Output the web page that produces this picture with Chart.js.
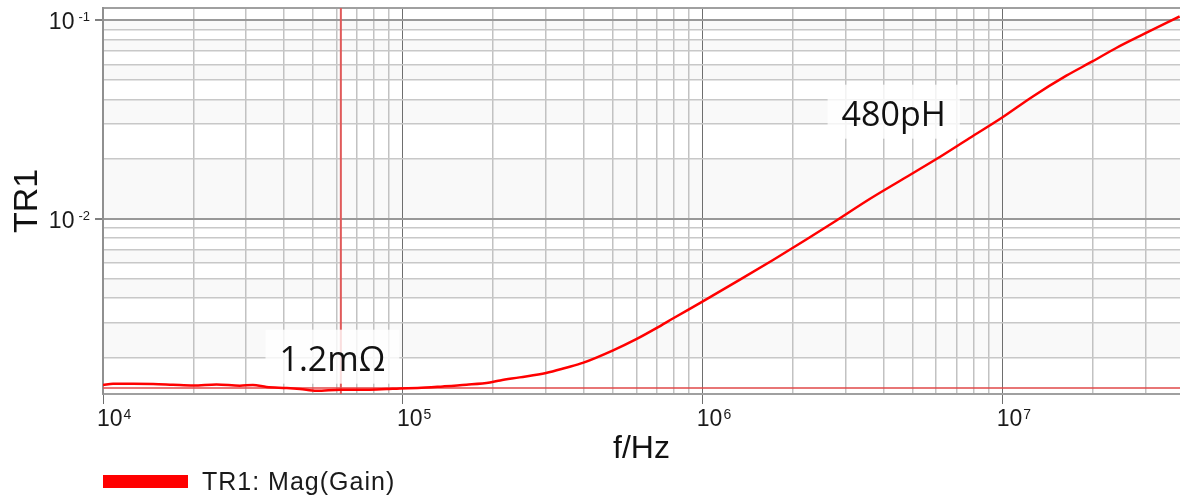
<!DOCTYPE html>
<html>
<head>
<meta charset="utf-8">
<script src="https://cdn.jsdelivr.net/npm/chart.js@4.4.1/dist/chart.umd.min.js"></script>
<style>
  html, body { margin: 0; padding: 0; background: #fff; }
</style>
</head>
<body>
<canvas id="chart" width="1180" height="496"></canvas>
<script>
// sweep (Hz -> |TR1|)
const freqHz = [1.0e4, 1.08e4, 1.26e4, 1.47e4, 1.71e4, 2.0e4, 2.39e4, 2.86e4, 3.16e4, 3.51e4,
  4.1e4, 4.54e4, 5.16e4, 6.17e4, 7.57e4, 8.82e4, 9.77e4, 1.12e5, 1.36e5, 1.63e5,
  1.95e5, 2.11e5, 2.45e5, 3.0e5, 3.5e5, 4.0e5, 5.0e5, 6.0e5, 7.0e5, 8.0e5,
  1.0e6, 1.33e6, 1.72e6, 2.22e6, 2.79e6, 3.6e6, 4.65e6, 6.01e6, 7.76e6, 9.9e6,
  1.26e7, 1.63e7, 1.99e7, 2.39e7, 2.97e7, 3.89e7];
const magTR1 = [1.450e-3, 1.472e-3, 1.472e-3, 1.467e-3, 1.455e-3, 1.443e-3, 1.460e-3, 1.438e-3, 1.450e-3, 1.417e-3,
  1.400e-3, 1.384e-3, 1.357e-3, 1.373e-3, 1.373e-3, 1.384e-3, 1.394e-3, 1.400e-3, 1.426e-3, 1.455e-3,
  1.494e-3, 1.529e-3, 1.584e-3, 1.667e-3, 1.773e-3, 1.879e-3, 2.161e-3, 2.468e-3, 2.805e-3, 3.157e-3,
  3.828e-3, 4.925e-3, 6.212e-3, 7.881e-3, 9.80e-3, 1.257e-2, 1.585e-2, 1.999e-2, 2.553e-2, 3.219e-2,
  4.136e-2, 5.262e-2, 6.21e-2, 7.26e-2, 8.567e-2, 1.047e-1];

const markerFreq = 6.21e4;  // vertical cursor
const refLevel = 1.4e-3;    // horizontal reference level

const xMin = 1e4, xMax = 3.9e7;
const yMin = 1.306e-3, yMax = 0.1155;

const xDecades = [1e4, 1e5, 1e6, 1e7];
const xDecadeExp = ['4', '5', '6', '7'];
const yDecades = [1e-2, 1e-1];
const yDecadeExp = ['-2', '-1'];
const gridSteps = [1, 2, 3, 4, 5, 6, 7, 8, 9];

const shadedBands = [[9e-2, 1e-1], [7e-2, 8e-2], [5e-2, 6e-2], [3e-2, 4e-2], [1e-2, 2e-2],
  [6e-3, 7e-3], [4e-3, 5e-3], [2e-3, 3e-3]];

const notes = [
  { text: '480pH', x: 4.33e6, y: 3.385e-2 },
  { text: '1.2mΩ', x: 5.82e4, y: 1.968e-3 }
];

const legendLabel = 'TR1: Mag(Gain)';
const sansFont = '"Liberation Sans", Arial, sans-serif';

function isDecade(v){
  const l = Math.log10(v);
  return Math.abs(l - Math.round(l)) < 1e-6;
}

function gridValues(decades, lo, hi){
  const vals = [];
  decades.forEach(d => gridSteps.forEach(s => {
    const v = d * s;
    if (v >= lo * 0.999 && v <= hi * 1.001) vals.push(v);
  }));
  return vals;
}

const xGrid = gridValues([1e4, 1e5, 1e6, 1e7], xMin, xMax);
const yGrid = gridValues([1e-3, 1e-2, 1e-1], yMin, yMax).concat([yMax]);

const plotDecor = {
  id: 'plotDecor',
  beforeDraw(chart){
    const {ctx, chartArea: a, scales: {y}} = chart;
    ctx.save();
    ctx.fillStyle = '#f9f9f9';
    shadedBands.forEach(b => {
      const top = y.getPixelForValue(b[1]);
      const bot = y.getPixelForValue(b[0]);
      ctx.fillRect(a.left, top, a.right - a.left, bot - top);
    });
    ctx.restore();
  },
  beforeDatasetDraw(chart, args){
    if (args.index !== 0) return;
    const {ctx, scales: {x, y}} = chart;
    ctx.save();
    ctx.font = '34px "Open Sans", sans-serif';
    notes.forEach(n => {
      const cx = x.getPixelForValue(n.x);
      const cy = y.getPixelForValue(n.y);
      const w = ctx.measureText(n.text).width;
      ctx.fillStyle = 'rgba(255,255,255,0.8)';
      ctx.fillRect(cx - w / 2 - 14, cy - 29, w + 28, 54);
      ctx.fillStyle = '#111';
      ctx.textAlign = 'center';
      ctx.textBaseline = 'alphabetic';
      ctx.fillText(n.text, cx, cy + 12);
    });
    ctx.restore();
  },
  afterDraw(chart){
    const {ctx, chartArea: a, scales: {x, y}} = chart;
    ctx.save();
    ctx.fillStyle = '#1a1a1a';
    ctx.textBaseline = 'alphabetic';

    // x decade labels 10^n
    xDecades.forEach((v, i) => {
      const px = x.getPixelForValue(v);
      ctx.font = '23px ' + sansFont;
      ctx.textAlign = 'left';
      ctx.fillText('10', px - 6, a.bottom + 32);
      const w = ctx.measureText('10').width;
      ctx.font = '14px ' + sansFont;
      ctx.fillText(xDecadeExp[i], px - 6 + w + 1, a.bottom + 25);
    });

    // y decade labels 10^n
    yDecades.forEach((v, i) => {
      const py = y.getPixelForValue(v);
      ctx.textAlign = 'right';
      ctx.font = '13px ' + sansFont;
      ctx.fillText(yDecadeExp[i], 90, py + 1);
      const we = ctx.measureText(yDecadeExp[i]).width;
      ctx.font = '23px ' + sansFont;
      ctx.fillText('10', 90 - we - 4, py + 9);
    });

    // legend
    const ds = chart.data.datasets[0];
    ctx.fillStyle = ds.borderColor;
    ctx.fillRect(103, 475, 85, 13);
    ctx.fillStyle = '#1a1a1a';
    ctx.textAlign = 'left';
    ctx.font = '25px ' + sansFont;
    ctx.letterSpacing = '1px';
    ctx.fillText(ds.label, 202, 490);
    ctx.restore();
  }
};

const ctx = document.getElementById('chart').getContext('2d');
new Chart(ctx, {
  type: 'line',
  data: {
    datasets: [{
      label: legendLabel,
      data: freqHz.map((f, i) => ({x: f, y: magTR1[i]})),
      borderColor: '#ff0000',
      borderWidth: 2.5,
      pointRadius: 0,
      cubicInterpolationMode: 'monotone',
      fill: false
    }, {
      label: 'marker',
      data: [{x: markerFreq, y: yMin}, {x: markerFreq, y: yMax}],
      borderColor: '#e05a5a',
      borderWidth: 2,
      pointRadius: 0
    }, {
      label: 'ref',
      data: [{x: xMin, y: refLevel}, {x: xMax, y: refLevel}],
      borderColor: '#e04848',
      borderWidth: 1.5,
      pointRadius: 0
    }]
  },
  options: {
    responsive: false,
    animation: false,
    layout: { padding: { top: 8, left: 0, right: 0, bottom: 0 } },
    plugins: {
      legend: { display: false },
      tooltip: { enabled: false }
    },
    scales: {
      x: {
        type: 'logarithmic',
        min: xMin,
        max: xMax,
        afterBuildTicks: s => { s.ticks = xGrid.map(v => ({value: v})); },
        afterFit: s => { s.height = 102; },
        ticks: { display: false },
        grid: {
          color: c => isDecade(c.tick.value) ? '#6e6e6e' : '#c2c2c2',
          lineWidth: c => isDecade(c.tick.value) ? 1 : 1.5,
          tickColor: c => isDecade(c.tick.value) ? '#6e6e6e' : 'rgba(0,0,0,0)',
          tickLength: 10
        },
        border: { color: '#a0a0a0', width: 2 },
        title: {
          display: true,
          text: 'f/Hz',
          color: '#111',
          font: { family: sansFont, size: 32 },
          padding: { top: 0, bottom: 28 }
        }
      },
      y: {
        type: 'logarithmic',
        min: yMin,
        max: yMax,
        afterBuildTicks: s => { s.ticks = yGrid.map(v => ({value: v})); },
        afterFit: s => { s.width = 103; },
        ticks: { display: false },
        grid: {
          color: c => c.tick.value === yMax ? '#a0a0a0' : (isDecade(c.tick.value) ? '#999999' : '#c8c8c8'),
          lineWidth: c => (c.tick.value === yMax || isDecade(c.tick.value)) ? 2 : 1.5,
          tickColor: c => isDecade(c.tick.value) ? '#808080' : 'rgba(0,0,0,0)',
          tickLength: 8
        },
        border: { color: '#909090', width: 2 },
        title: {
          display: true,
          text: 'TR1',
          color: '#111',
          font: { family: sansFont, size: 34 },
          padding: { top: 7, bottom: 0 }
        }
      }
    }
  },
  plugins: [plotDecor]
});
</script>
</body>
</html>
